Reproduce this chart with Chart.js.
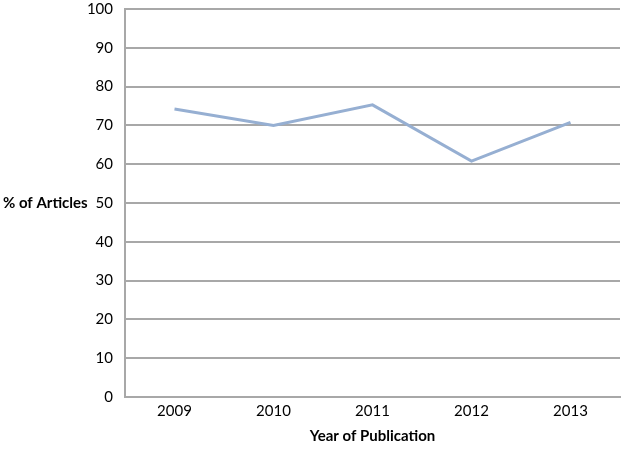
<!DOCTYPE html>
<html>
<head>
<meta charset="utf-8">
<script src="https://cdn.jsdelivr.net/npm/chart.js@4/dist/chart.umd.min.js"></script>
<style>
  html, body { margin: 0; padding: 0; background: #fff; }
  #wrap { width: 627px; height: 452px; }
</style>
</head>
<body>
<div id="wrap"><canvas id="chart"></canvas></div>
<script>
// data
const years = ['2009', '2010', '2011', '2012', '2013'];
const pctArticles = [74.2, 70, 75.3, 60.8, 70.8];
const yTicks = [0, 10, 20, 30, 40, 50, 60, 70, 80, 90, 100];

const gridGrey = '#a8a8a8';
const textCol = '#000';

// horizontal y-axis title drawn to the left of the ticks
const yTitlePlugin = {
  id: 'yTitle',
  afterDraw(chart) {
    const ctx = chart.ctx;
    const y = chart.scales.y.getPixelForValue(50);
    ctx.save();
    ctx.font = 'bold 15px Lato';
    ctx.fillStyle = textCol;
    ctx.textAlign = 'left';
    ctx.textBaseline = 'middle';
    ctx.fillText('% of Articles', 3, y);
    ctx.restore();
  }
};

new Chart(document.getElementById('chart').getContext('2d'), {
  type: 'line',
  data: {
    labels: years,
    datasets: [
      {
        label: '% of Articles',
        data: pctArticles,
        borderColor: '#96afd2',
        borderWidth: 3,
        pointRadius: 0,
        tension: 0,
        fill: false,
      },
    ],
  },
  options: {
    responsive: true,
    maintainAspectRatio: false,
    animation: false,
    layout: { padding: { top: 9, right: 7, bottom: 0, left: 0 } },
    plugins: {
      legend: { display: false },
      tooltip: { enabled: false },
    },
    scales: {
      x: {
        offset: true,
        grid: { display: false, drawTicks: false },
        border: { display: true, color: gridGrey, width: 2 },
        ticks: { color: textCol, font: { family: 'Lato', size: 15 }, padding: 5 },
        title: {
          display: true,
          text: 'Year of Publication',
          color: textCol,
          font: { family: 'Lato', size: 15, weight: 'bold' },
          padding: { top: 0, bottom: 7 },
        },
        afterFit(axis) { axis.height = 55; },
      },
      y: {
        min: 0,
        max: 100,
        afterBuildTicks(axis) { axis.ticks = yTicks.map(v => ({ value: v })); },
        grid: { color: gridGrey, lineWidth: 2, drawTicks: false },
        border: { display: true, color: gridGrey, width: 2 },
        ticks: { color: textCol, font: { family: 'Lato', size: 15 }, padding: 12 },
        afterFit(axis) {
          axis.width = 125;
          axis.paddingTop = 0;
        },
      },
    },
  },
  plugins: [yTitlePlugin],
});
</script>
</body>
</html>
